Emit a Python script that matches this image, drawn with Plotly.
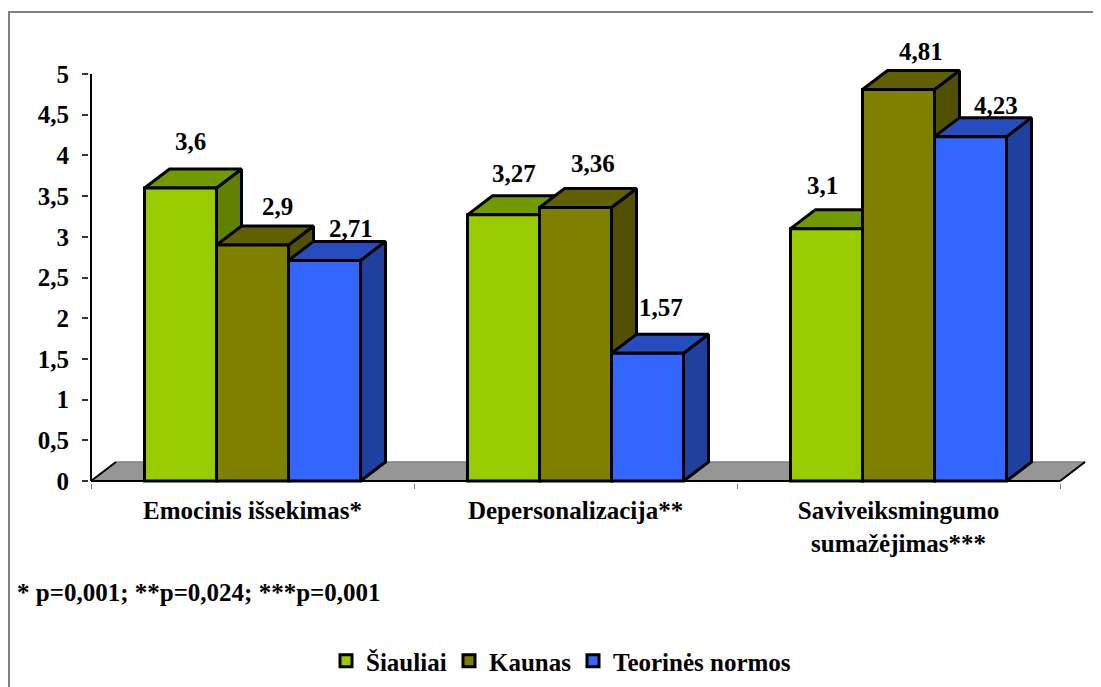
import plotly.graph_objects as go

categories = ["Emocinis išsekimas*", "Depersonalizacija**", "Saviveiksmingumo<br>sumažėjimas***"]
siauliai = [3.6, 3.27, 3.1]
kaunas = [2.9, 3.36, 4.81]
normos = [2.71, 1.57, 4.23]
series_names = ["Šiauliai", "Kaunas", "Teorinės normos"]
y_ticks = [0, 0.5, 1, 1.5, 2, 2.5, 3, 3.5, 4, 4.5, 5]
y_tick_text = ["0", "0,5", "1", "1,5", "2", "2,5", "3", "3,5", "4", "4,5", "5"]
note = "* p=0,001; **p=0,024; ***p=0,001"

# styling
FONT = "Liberation Serif"
FS = 25
front = ["#99CC00", "#808000", "#3366FF"]
top_c = ["#739900", "#606000", "#264CBF"]
side_c = ["#608000", "#505000", "#2040A0"]
PAGE = 8                     # page margin of the browser
W, H = 1101 - PAGE, 687 - PAGE
X0, X3, Y0, Y5 = 91, 1060, 481, 74      # reference pixels of the axis ends
pxx = (X3 - X0) / 3
pxy = (Y0 - Y5) / 5
DX, DY, BW = 25 / pxx, 19 / pxy, 72 / pxx
# plot area, in reference pixels
AL, AR, AT, AB = 89, 1092, 60, 483
xr = [(AL - X0) / pxx, (AR - X0) / pxx]
yr = [(Y0 - AB) / pxy, (Y0 - AT) / pxy]
# label nudges in px (dx, dy up), by series then category
nudge = [[(10, 46), (10, 41), (-4, 43)],
         [(25, 38), (17, 44.5), (22, 37.5)],
         [(26, 32), (13, 46), (25, 30.7)]]
legend_left = [326, 449, 573]
legend_ids = ["legend", "legend2", "legend3"]
px = lambda x: (x - AL) / (AR - AL)
py = lambda y: (AB - y) / (AB - AT)
tf = dict(family=FONT, size=FS, color="black", weight="bold")

values = [siauliai, kaunas, normos]
centers = [0.5, 1.5, 2.5]
fig = go.Figure()

# floor
fig.add_trace(go.Scatter(x=[0, DX, 3 + DX, 3, 0], y=[0, DY, DY, 0, 0], mode="lines", fill="toself",
                         fillcolor="#969696", line=dict(color="#808080", width=1.5), showlegend=False,
                         hoverinfo="skip"))
fig.add_trace(go.Scatter(x=[0, DX, None, 3, 3 + DX], y=[0, DY, None, 0, DY], mode="lines",
                         line=dict(color="black", width=2), showlegend=False, hoverinfo="skip"))

ann = []
for s, vals in enumerate(values):
    for c, v in zip(centers, vals):
        xc = c + (s - 1) * BW
        x0, x1 = xc - BW / 2, xc + BW / 2
        fig.add_trace(go.Scatter(x=[x1, x1 + DX, x1 + DX, x1, x1], y=[0, DY, v + DY, v, 0], mode="lines",
                                 fill="toself", fillcolor=side_c[s], line=dict(color="black", width=3),
                                 showlegend=False, hoverinfo="skip", zorder=s * 2 + 1))
        fig.add_trace(go.Scatter(x=[x0, x0 + DX, x1 + DX, x1, x0], y=[v, v + DY, v + DY, v, v], mode="lines",
                                 fill="toself", fillcolor=top_c[s], line=dict(color="black", width=3),
                                 showlegend=False, hoverinfo="skip", zorder=s * 2 + 1))
    fig.add_trace(go.Bar(x=centers, y=vals, name=series_names[s], width=BW, legend=legend_ids[s],
                         marker=dict(color=front[s], line=dict(color="black", width=3)),
                         zorder=s * 2 + 2))
    for i, (c, v) in enumerate(zip(centers, vals)):
        xc = c + (s - 1) * BW
        dx, dy = nudge[s][i]
        ann.append(dict(x=xc, y=v, xref="x", yref="y", text=str(v).replace(".", ","), showarrow=False,
                        xshift=dx, yshift=dy, xanchor="center", yanchor="middle", font=tf))

# axis lines
fig.add_trace(go.Scatter(x=[0, 0, None, 0, 3], y=[0, 5, None, 0, 0], mode="lines",
                         line=dict(color="black", width=2), showlegend=False, hoverinfo="skip", zorder=20))

ann.append(dict(x=px(15), y=py(592), xref="paper", yref="paper", text=note, showarrow=False,
                xanchor="left", yanchor="middle", font=tf))

legends = {lid: dict(orientation="h", xref="container", yref="container", x=(lx - PAGE) / W,
                     y=1 - (638 - PAGE) / H, xanchor="left", yanchor="top", font=tf,
                     bgcolor="rgba(0,0,0,0)", itemclick=False, itemdoubleclick=False)
           for lid, lx in zip(legend_ids, legend_left)}

fig.update_layout(
    width=W, height=H, autosize=False,
    margin=dict(l=AL - PAGE, r=W - (AR - PAGE), t=AT - PAGE, b=H - (AB - PAGE), pad=0),
    paper_bgcolor="white", plot_bgcolor="white",
    barmode="group", bargap=1 - 3 * BW, bargroupgap=0,
    showlegend=True,
    annotations=ann,
    shapes=[
        dict(type="line", xref="paper", yref="paper", x0=px(9), x1=px(9), y0=py(12), y1=py(H + PAGE),
             line=dict(color="#808080", width=2), layer="below"),
        dict(type="line", xref="paper", yref="paper", x0=px(8), x1=px(W + PAGE), y0=py(12), y1=py(12),
             line=dict(color="#808080", width=2), layer="below"),
    ],
    xaxis=dict(range=xr, tickmode="array", tickvals=centers, ticktext=categories, ticklen=0,
               ticklabelstandoff=10, showgrid=False, zeroline=False, showline=False, tickfont=tf,
               minor=dict(tickmode="array", tickvals=[0, 1, 2, 3], ticks="outside", ticklen=5,
                          tickwidth=1, tickcolor="#808080", showgrid=False)),
    yaxis=dict(range=yr, tickmode="array", tickvals=y_ticks, ticktext=y_tick_text, ticks="outside",
               ticklen=6, tickwidth=1.5, tickcolor="#333333", showgrid=False, zeroline=False,
               showline=False, ticklabelstandoff=8, tickfont=tf),
    **legends,
)
fig.write_html("out.html")
